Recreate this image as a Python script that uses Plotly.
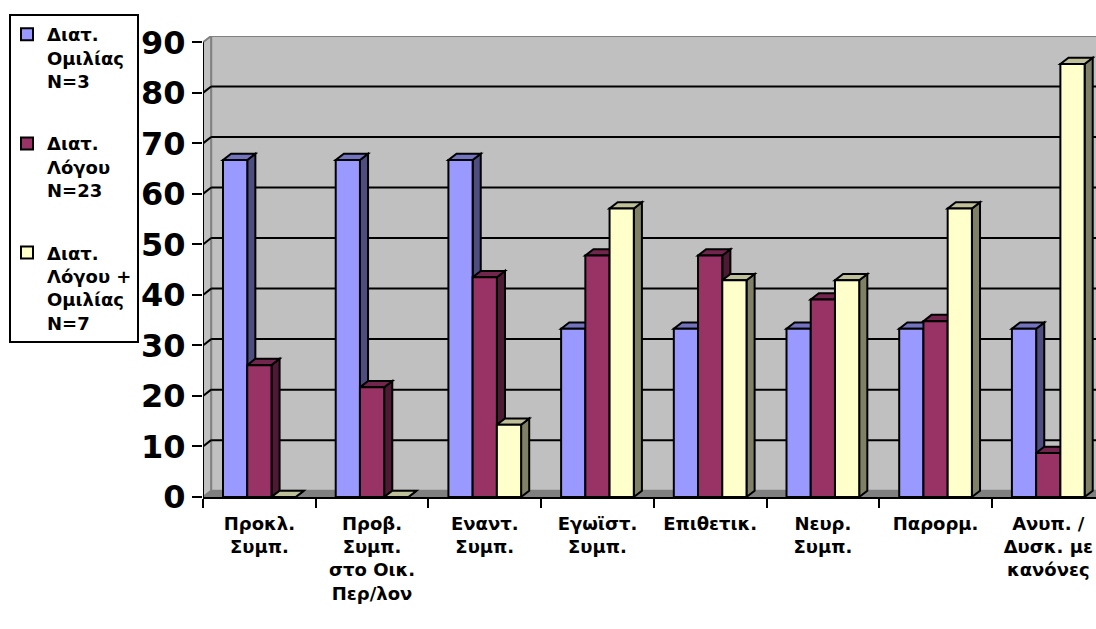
import plotly.graph_objects as go

# --- data -------------------------------------------------------------
categories = [
    "Προκλ.<br>Συμπ.",
    "Προβ.<br>Συμπ.<br>στο Οικ.<br>Περ/λον",
    "Εναντ.<br>Συμπ.",
    "Εγωϊστ.<br>Συμπ.",
    "Επιθετικ.",
    "Νευρ.<br>Συμπ.",
    "Παρορμ.",
    "Ανυπ. /<br>Δυσκ. με<br>κανόνες",
]
series_names = [
    "Διατ.<br>Ομιλίας<br>N=3",
    "Διατ.<br>Λόγου<br>N=23",
    "Διατ.<br>Λόγου +<br>Ομιλίας<br>N=7",
]
speech_disorder = [66.7, 66.7, 66.7, 33.3, 33.3, 33.3, 33.3, 33.3]
language_disorder = [26.1, 21.7, 43.5, 47.8, 47.8, 39.1, 34.8, 8.7]
language_speech_disorder = [0.0, 0.0, 14.3, 57.1, 42.9, 42.9, 57.1, 85.7]
y_ticks = [0, 10, 20, 30, 40, 50, 60, 70, 80, 90]

# --- styling ----------------------------------------------------------
FONT = "DejaVu Sans"
front_colors = ["#9999FF", "#993366", "#FFFFCC"]
top_colors = ["#7373BF", "#73264D", "#BFBF99"]
side_colors = ["#4D4D80", "#4D1A33", "#808066"]

W = 0.215          # bar width in category units
DX = 0.072         # depth offset (x, data units)
DY = 1.25          # depth offset (y, data units)
X0 = -0.5
XMAX = 7.4236
YMAX = 91.25

all_series = [speech_disorder, language_disorder, language_speech_disorder]
xs = list(range(len(categories)))


def poly(points):
    return "M " + " L ".join(f"{x},{y}" for x, y in points) + " Z"


shapes = []
# back wall
shapes.append(dict(type="path", xref="x", yref="y", layer="below",
                   path=poly([(X0 + DX, DY), (X0 + DX, 90 + DY), (XMAX + 1, 90 + DY), (XMAX + 1, DY)]),
                   fillcolor="#C0C0C0", line=dict(color="#808080", width=2)))
# side wall
shapes.append(dict(type="path", xref="x", yref="y", layer="below",
                   path=poly([(X0, 0), (X0, 90), (X0 + DX, 90 + DY), (X0 + DX, DY)]),
                   fillcolor="#C0C0C0", line=dict(color="#808080", width=2)))
# floor
shapes.append(dict(type="path", xref="x", yref="y", layer="below",
                   path=poly([(X0, 0), (XMAX + 1, 0), (XMAX + 1, DY), (X0 + DX, DY)]),
                   fillcolor="#808080", line=dict(color="#808080", width=1)))
# gridlines on the walls
for v in y_ticks[1:-1]:
    shapes.append(dict(type="line", xref="x", yref="y", layer="below",
                       x0=X0 + DX, x1=XMAX + 1, y0=v + DY, y1=v + DY,
                       line=dict(color="black", width=2)))
    shapes.append(dict(type="line", xref="x", yref="y", layer="below",
                       x0=X0, x1=X0 + DX, y0=v, y1=v + DY,
                       line=dict(color="black", width=2)))
# value axis line
shapes.append(dict(type="line", xref="x", yref="y", layer="above",
                   x0=X0, x1=X0, y0=0, y1=90, line=dict(color="black", width=2)))

# top and side faces of every column
for k, vals in enumerate(all_series):
    off = -1.5 * W + k * W
    for i, v in zip(xs, vals):
        left = i + off
        right = left + W
        shapes.append(dict(type="path", xref="x", yref="y", layer="below",
                           path=poly([(right, 0), (right, v), (right + DX, v + DY), (right + DX, DY)]),
                           fillcolor=side_colors[k], line=dict(color="black", width=2)))
        shapes.append(dict(type="path", xref="x", yref="y", layer="below",
                           path=poly([(left, v), (right, v), (right + DX, v + DY), (left + DX, v + DY)]),
                           fillcolor=top_colors[k], line=dict(color="black", width=2)))

fig = go.Figure()
for k, vals in enumerate(all_series):
    fig.add_trace(go.Bar(
        x=xs, y=vals, name=series_names[k], width=W, offset=-1.5 * W + k * W,
        marker=dict(color=front_colors[k], line=dict(color="black", width=2)),
        legendgroup=f"g{k}", hoverinfo="skip",
    ))

fig.update_layout(
    width=1096, height=629, autosize=False,
    margin=dict(l=203, r=0, t=36, b=132, pad=0),
    paper_bgcolor="white", plot_bgcolor="white",
    barmode="overlay",
    shapes=shapes,
    showlegend=True,
    legend=dict(
        x=(9 - 203) / 893, y=(497 - 14) / 461, xanchor="left", yanchor="top",
        bgcolor="white", bordercolor="black", borderwidth=2,
        font=dict(family=FONT, size=18, color="black", weight="bold"),
        traceorder="grouped", tracegroupgap=36, valign="top",
        indentation=-4, maxheight=600,
    ),
    xaxis=dict(
        range=[X0, XMAX], tickmode="array", tickvals=xs, ticktext=categories,
        ticks="", showgrid=False, zeroline=False,
        showline=True, linecolor="black", linewidth=2,
        ticklabelstandoff=9,
        tickfont=dict(family=FONT, size=18, color="black", weight="bold"),
        minor=dict(tickmode="array", tickvals=[X0 + j for j in range(9)],
                   ticks="outside", ticklen=9, tickwidth=2, tickcolor="black",
                   showgrid=False),
    ),
    yaxis=dict(
        range=[0, YMAX], tickmode="array", tickvals=y_ticks,
        ticks="outside", ticklen=10, tickwidth=2, tickcolor="black",
        showgrid=False, zeroline=False, showline=False,
        tickfont=dict(family=FONT, size=32, color="black", weight="bold"),
    ),
)

fig.write_html("out.html")
